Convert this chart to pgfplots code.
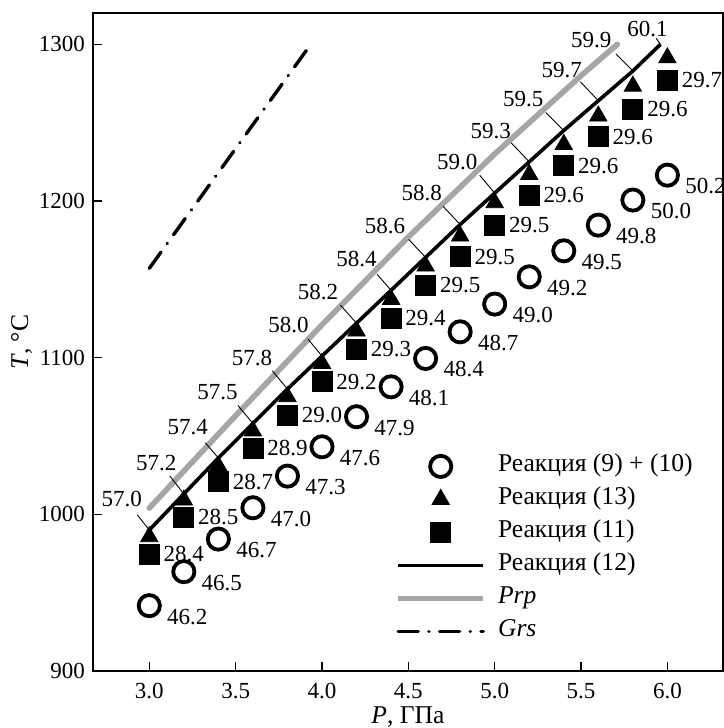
\documentclass[border=0pt]{standalone}
\usepackage{pgfplots}
\pgfplotsset{compat=1.18}
\usepackage{pgfplotstable}
\usepackage{fontspec}
\setmainfont{Liberation Serif}
\definecolor{prp}{RGB}{166,166,166}

\pgfplotsset{
  mylegimg/.style={legend image code/.code={%
    \draw[mark repeat=2,mark phase=2,##1] plot coordinates {(0pt,0pt) (21.25pt,0pt) (42.5pt,0pt)};}},
}

\pgfplotstableread{
P T lab
3.0 941.7 46.2
3.2 963.4 46.5
3.4 984.2 46.7
3.6 1004.2 47.0
3.8 1024.4 47.3
4.0 1043.1 47.6
4.2 1062.3 47.9
4.4 1081.4 48.1
4.6 1099.5 48.4
4.8 1116.5 48.7
5.0 1134.2 49.0
5.2 1151.6 49.2
5.4 1168.2 49.5
5.6 1184.6 49.8
5.8 1200.6 50.0
6.0 1216.5 50.2
}\circles

\pgfplotstableread{
P T lab
3.0 974.7 28.4
3.2 998.1 28.5
3.4 1020.8 28.7
3.6 1042.1 28.9
3.8 1063.4 29.0
4.0 1084.6 29.2
4.2 1105.5 29.3
4.4 1125.1 29.4
4.6 1146.3 29.5
4.8 1164.4 29.5
5.0 1184.6 29.5
5.2 1203.8 29.6
5.4 1222.5 29.6
5.6 1241.0 29.6
5.8 1258.6 29.6
6.0 1277.1 29.7
}\squares

\pgfplotstableread{
P T
3.0 985.7
3.2 1009.1
3.4 1030.8
3.6 1053.2
3.8 1075.1
4.0 1096.3
4.2 1117.0
4.4 1137.2
4.6 1158.5
4.8 1177.6
5.0 1198.9
5.2 1216.9
5.4 1236.1
5.6 1254.2
5.8 1273.3
6.0 1291.4
}\triangles

\pgfplotstableread{
P T
3.0 990
3.2 1013
3.4 1036
3.6 1058
3.8 1080
4.0 1101
4.2 1122
4.4 1143
4.6 1164
4.8 1185
5.0 1205
5.2 1225
5.4 1245
5.6 1264
5.8 1283
5.96 1300
}\blackline

% labels of reaction (12): leader vector (u,v) in data units, label offset dx (pt)
\pgfplotstableread{
P T lab u v dx
3.0 990 57.0 -0.069 9.57 -3.5
3.2 1013 57.2 -0.081 11.49 -3.5
3.4 1036 57.4 -0.075 9.57 -5
3.6 1058 57.5 -0.087 11.49 -7.5
3.8 1080 57.8 -0.087 11.49 -7.5
4.0 1101 58.0 -0.081 10.85 -6.5
4.2 1122 58.2 -0.093 11.49 -9
4.4 1143 58.4 -0.081 10.21 -7
4.6 1164 58.6 -0.098 11.49 -10
4.8 1185 58.8 -0.098 11.49 -9
5.0 1205 59.0 -0.087 11.49 -8.5
5.2 1225 59.3 -0.104 12.1 -9
5.4 1245 59.5 -0.104 11.49 -10
5.6 1264 59.7 -0.104 12.1 -8
5.8 1283 59.9 -0.098 10.85 -10.5
}\blacklabels

\pgfplotstableread{
P T lab
5.96 1300 60.1
}\lastlabel

\pgfplotstableread{
P T
3.0 1004
3.5 1063
4.0 1121
4.5 1177
5.0 1230
5.5 1280
5.71 1300
}\prpline

\pgfplotstableread{
P T
3.0 1157
3.935 1300
}\grsline

\newcommand\bigtext{\fontsize{12.8}{15}\selectfont}

\begin{document}
\fontsize{11.5}{13.8}\selectfont
\begin{tikzpicture}
\begin{axis}[
  name=ax,
  scale only axis, width=315pt, height=329pt,
  xmin=2.674, xmax=6.322, ymin=900, ymax=1320,
  xtick={3,3.5,4,4.5,5,5.5,6}, ytick={900,1000,1100,1200,1300},
  tick pos=left, tick align=inside,
  major tick length=4.5pt,
  every tick/.style={black, line width=0.6pt},
  axis line style={line width=0.7pt},
  /pgf/number format/assume math mode=true,
  x tick label style={/pgf/number format/fixed, /pgf/number format/fixed zerofill, /pgf/number format/precision=1, yshift=-2.3pt},
  y tick label style={/pgf/number format/fixed, /pgf/number format/1000 sep={}},
  xlabel={\textit{P}, ГПа}, ylabel={\textit{T}, °C},
  every axis x label/.style={at={(rel axis cs:0.5,0)}, anchor=base, yshift=-26.2pt, font=\bigtext},
  every axis y label/.style={at={(rel axis cs:0,0.5)}, xshift=-32.4pt, rotate=90, anchor=base, font=\bigtext},
  mylegimg,
  legend style={at={(rel axis cs:0.4794,0.3328)}, anchor=north west, draw=none, fill=none,
    inner sep=0pt, row sep=2.5pt, column sep=5pt, font=\bigtext,
    nodes={inner sep=1pt, text height=8.6pt, text depth=3.4pt}},
  legend cell align=left,
  clip=false,
]
% legend images
\addlegendimage{only marks, mark=o, mark size=5.3pt, draw opacity=0, mark options={line width=1.9pt, black, draw opacity=1}}
\addlegendentry{Реакция (9) + (10)}
\addlegendimage{only marks, mark=triangle*, mark size=5pt, black, draw opacity=0, mark options={draw opacity=1}}
\addlegendentry{Реакция (13)}
\addlegendimage{only marks, mark=square*, mark size=5pt, black, draw opacity=0, mark options={draw opacity=1}}
\addlegendentry{Реакция (11)}
\addlegendimage{black, line width=1.8pt, mark=none}
\addlegendentry{Реакция (12)}
\addlegendimage{prp, line width=2.8pt, mark=none}
\addlegendentry{\textit{Prp}}
\addlegendimage{black, line width=1.7pt, line cap=round, mark=none, dash pattern=on 10pt off 5.3pt on 0.1pt off 5.3pt}
\addlegendentry{\textit{Grs}}

% lines
\addplot[prp, line width=2.8pt, line cap=round, mark=none, forget plot] table[x=P,y=T] {\prpline};
\addplot[black, line width=1.8pt, mark=none, forget plot] table[x=P,y=T] {\blackline};
\addplot[black, line width=1.7pt, line cap=round, mark=none, dash pattern=on 10pt off 5.3pt on 0.1pt off 5.3pt, forget plot] table[x=P,y=T] {\grsline};

% leader lines and labels of reaction (12)
\addplot[black, line width=0.45pt, mark=none, quiver={u=\thisrow{u}, v=\thisrow{v}}, forget plot] table[x=P,y=T] {\blacklabels};
\addplot[draw=none, mark=none, forget plot, nodes near coords, point meta=explicit symbolic,
  visualization depends on={\thisrow{dx} \as \labdx},
  every node near coord/.append style={anchor=south east, inner sep=0pt, xshift=\labdx*1pt, yshift=11.5pt, black}]
  table[x=P,y=T,meta=lab] {\blacklabels};
\addplot[black, line width=0.45pt, mark=none, quiver={u=-0.025, v=3.8}, forget plot] table[x=P,y=T] {\lastlabel};
\addplot[draw=none, mark=none, forget plot, nodes near coords, point meta=explicit symbolic,
  every node near coord/.append style={anchor=south, inner sep=0.5pt, xshift=-6.5pt, yshift=3pt, black}]
  table[x=P,y=T,meta=lab] {\lastlabel};

% markers
\addplot[only marks, mark=o, mark size=5.3pt, mark options={line width=1.9pt, black}, forget plot,
  nodes near coords, point meta=explicit symbolic,
  every node near coord/.append style={anchor=west, inner sep=0.5pt, xshift=7.5pt, yshift=-5.5pt, black}]
  table[x=P,y=T,meta=lab] {\circles};
\addplot[only marks, mark=square*, mark size=5pt, black, forget plot,
  nodes near coords, point meta=explicit symbolic,
  every node near coord/.append style={anchor=west, inner sep=0.5pt, xshift=6.5pt, yshift=0pt, black}]
  table[x=P,y=T,meta=lab] {\squares};
\addplot[only marks, mark=triangle*, mark size=5pt, black, forget plot] table[x=P,y=T] {\triangles};
\end{axis}
\pgfresetboundingbox
\path ([xshift=-46.5pt,yshift=-28.5pt]ax.south west) rectangle ([xshift=0.5pt,yshift=6.5pt]ax.north east);
\end{tikzpicture}
\end{document}
